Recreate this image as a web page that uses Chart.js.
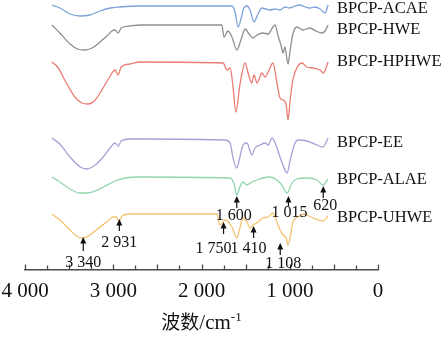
<!DOCTYPE html>
<html>
<head>
<meta charset="utf-8">
<script src="https://cdn.jsdelivr.net/npm/chart.js@4.4.0/dist/chart.umd.min.js"></script>
<style>
html, body { margin: 0; padding: 0; background: #fff; }
#wrap { position: relative; width: 442px; height: 341px; }
</style>
</head>
<body>
<div id="wrap"><canvas id="ftir"></canvas></div>
<script>
// FTIR spectra, wavenumber (cm-1) and offset transmittance (a.u.)
const seriesNames = ['BPCP-ACAE', 'BPCP-HWE', 'BPCP-HPHWE', 'BPCP-EE', 'BPCP-ALAE', 'BPCP-UHWE'];

const acaeWn = [3695, 3605, 3490, 3375, 3265, 3150, 3035, 2925, 2700, 2245, 1770, 1655, 1620, 1585, 1550, 1520, 1485, 1450, 1405, 1360, 1315, 1270, 1225, 1165, 1110, 1055, 1000, 940, 885, 825, 770, 715, 655, 600, 565];
const acaeT = [265, 262, 256, 254, 255, 259, 262, 263, 264, 264, 264, 264, 258, 243, 252, 262, 264, 260, 248, 256, 262, 261, 260, 261, 260, 263, 262, 264, 265, 263, 262, 263, 261, 257, 265];

const hweWn = [3695, 3605, 3490, 3405, 3320, 3240, 3150, 3060, 3015, 2980, 2945, 2910, 2810, 2695, 1770, 1745, 1700, 1655, 1600, 1550, 1505, 1460, 1415, 1370, 1305, 1245, 1190, 1165, 1135, 1100, 1075, 1055, 1020, 995, 965, 920, 850, 770, 705, 635, 600, 565];
const hweT = [245, 237, 226, 221, 220, 222, 228, 235, 239, 240, 237, 242, 244, 245, 245, 233, 239, 233, 220, 231, 241, 236, 232, 235, 237, 236, 243, 245, 235, 225, 217, 223, 206, 220, 236, 243, 240, 242, 239, 237, 239, 245];

const hphweWn = [3695, 3630, 3550, 3435, 3355, 3285, 3205, 3115, 3035, 2980, 2945, 2910, 2810, 2695, 1755, 1710, 1675, 1645, 1610, 1565, 1505, 1475, 1430, 1405, 1370, 1315, 1280, 1245, 1190, 1145, 1110, 1075, 1040, 1020, 995, 965, 920, 860, 805, 735, 655, 620, 565];
const hphweT = [208, 203, 190, 173, 167, 166, 170, 182, 194, 200, 195, 203, 206, 208, 207, 200, 202, 185, 158, 185, 207, 198, 187, 195, 187, 197, 193, 198, 207, 187, 172, 170, 165, 150, 170, 190, 202, 207, 203, 202, 200, 197, 208];

const eeWn = [3695, 3605, 3490, 3375, 3295, 3205, 3115, 3035, 2980, 2945, 2910, 2810, 2695, 1735, 1675, 1645, 1600, 1565, 1530, 1485, 1430, 1395, 1335, 1280, 1245, 1200, 1165, 1110, 1055, 1030, 995, 940, 905, 805, 690, 625, 565];
const eeT = [132, 126, 113, 103, 101, 105, 113, 122, 127, 124, 129, 131, 131, 130, 127, 113, 102, 113, 125, 127, 115, 122, 125, 127, 125, 132, 127, 113, 100, 97, 110, 127, 130, 129, 125, 123, 132];

const alaeWn = [3695, 3605, 3490, 3375, 3295, 3205, 3090, 2980, 2865, 2695, 1675, 1630, 1600, 1565, 1530, 1485, 1430, 1370, 1305, 1225, 1145, 1090, 1030, 975, 920, 805, 690, 625, 565];
const alaeT = [93, 88, 81, 77, 77, 79, 84, 89, 92, 93, 92, 86, 75, 83, 88, 85, 88, 90, 92, 93, 90, 85, 77, 87, 91, 92, 90, 85, 91];

const uhweWn = [3695, 3605, 3490, 3400, 3345, 3265, 3150, 3060, 3005, 2970, 2935, 2900, 2810, 2695, 1825, 1790, 1735, 1655, 1600, 1565, 1530, 1485, 1450, 1415, 1360, 1305, 1245, 1190, 1145, 1110, 1075, 1040, 1020, 985, 965, 905, 850, 735, 625, 565];
const uhweT = [56, 50, 40, 33, 32, 35, 43, 49, 53, 53, 49, 54, 56, 56, 56, 45, 50, 43, 32, 42, 52, 48, 42, 45, 48, 52, 53, 57, 48, 40, 35, 32, 25, 38, 48, 53, 56, 52, 49, 54];

// marked bands
const bandWn = [3340, 2931, 1750, 1600, 1410, 1108, 1015, 620];

const xTicks = [4000, 3000, 2000, 1000, 0];

// ---- layout / style ----
const SERIF = "'Liberation Serif', 'DejaVu Serif', serif";
const AXIS_COLOR = '#4a4a4a';
const colors = ['#7fa2d8', '#938d8d', '#ea7d74', '#ab9ed6', '#93d5ad', '#f3c36f'];
const nameX = 337;
const nameBaselines = [12.5, 33.5, 65.5, 146.5, 183.5, 221.5];
// per band: arrow tip y, tail y, label dx, label baseline
const bandLayout = [
    [237, 251, 0, 267],
    [219, 231, 0, 247],
    [222, 234, -10, 253],
    [196, 208, -3, 220],
    [226, 238, -5, 253],
    [243, 255, 3, 268],
    [196, 206, 1, 217],
    [186, 198, 2, 210]
];

const fmt = v => String(v).replace(/\B(?=(\d{3})+(?!\d))/g, ' ');
const points = (wn, t) => wn.map((w, i) => ({ x: w, y: t[i] }));

const spectra = [
    points(acaeWn, acaeT), points(hweWn, hweT), points(hphweWn, hphweT),
    points(eeWn, eeT), points(alaeWn, alaeT), points(uhweWn, uhweT)
];

const decorations = {
    id: 'decorations',
    afterDraw(chart) {
        const ctx = chart.ctx;
        const xs = chart.scales.x;
        const area = chart.chartArea;
        ctx.save();
        // inward ticks every 250 cm-1
        ctx.strokeStyle = AXIS_COLOR;
        ctx.lineWidth = 1.3;
        for (let wn = 0; wn <= 4000; wn += 250) {
            const px = Math.round(xs.getPixelForValue(wn)) + 0.5;
            ctx.beginPath();
            ctx.moveTo(px, area.bottom);
            ctx.lineTo(px, area.bottom - (wn % 500 === 0 ? 5.5 : 4.5));
            ctx.stroke();
        }
        // series names
        ctx.fillStyle = '#111';
        ctx.font = `16.5px ${SERIF}`;
        ctx.textAlign = 'left';
        ctx.textBaseline = 'alphabetic';
        seriesNames.forEach((name, i) => ctx.fillText(name, nameX, nameBaselines[i]));
        // band arrows and labels
        ctx.font = `16px ${SERIF}`;
        ctx.textAlign = 'center';
        ctx.strokeStyle = '#111';
        ctx.lineWidth = 1.2;
        bandWn.forEach((wn, i) => {
            const [tip, tail, dx, base] = bandLayout[i];
            const px = xs.getPixelForValue(wn);
            ctx.beginPath();
            ctx.moveTo(px, tail);
            ctx.lineTo(px, tip + 4);
            ctx.stroke();
            ctx.beginPath();
            ctx.moveTo(px, tip);
            ctx.lineTo(px - 3, tip + 6.5);
            ctx.lineTo(px + 3, tip + 6.5);
            ctx.closePath();
            ctx.fill();
            ctx.fillText(fmt(wn), px + dx, base);
        });
        // axis title with superscript
        const cx = (area.left + area.right) / 2;
        const ty = 329;
        const cjk = "19px 'Noto Sans CJK SC', sans-serif";
        const main = `21px ${SERIF}`;
        const sup = `13px ${SERIF}`;
        ctx.font = cjk; const w1 = ctx.measureText('波数').width;
        ctx.font = main; const w2 = ctx.measureText('/cm').width;
        ctx.font = sup; const w3 = ctx.measureText('-1').width;
        let tx = cx - (w1 + w2 + w3) / 2;
        ctx.textAlign = 'left';
        ctx.font = cjk; ctx.fillText('波数', tx, ty); tx += w1;
        ctx.font = main; ctx.fillText('/cm', tx, ty); tx += w2;
        ctx.font = sup; ctx.fillText('-1', tx, ty - 8);
        ctx.restore();
    }
};

new Chart(document.getElementById('ftir'), {
    type: 'line',
    data: {
        datasets: spectra.map((data, i) => ({
            label: seriesNames[i],
            data,
            borderColor: colors[i],
            borderWidth: 1.3,
            pointRadius: 0,
            fill: false,
            cubicInterpolationMode: 'monotone'
        }))
    },
    options: {
        responsive: true,
        maintainAspectRatio: false,
        animation: false,
        layout: { padding: { left: 25, right: 64, top: 0, bottom: 0 } },
        plugins: { legend: { display: false }, tooltip: { enabled: false } },
        scales: {
            x: {
                type: 'linear',
                reverse: true,
                min: 0,
                max: 4000,
                afterBuildTicks: scale => { scale.ticks = xTicks.map(v => ({ value: v })); },
                afterFit: scale => {
                    scale.height = 71;
                    scale.paddingLeft = 0;
                    scale.paddingRight = 0;
                },
                grid: { display: true, drawOnChartArea: false, drawTicks: false },
                border: { display: true, color: AXIS_COLOR, width: 1.5 },
                ticks: {
                    autoSkip: false,
                    maxRotation: 0,
                    padding: 9,
                    color: '#111',
                    font: { family: SERIF, size: 21 },
                    callback: v => fmt(v)
                }
            },
            y: { display: false, min: 0, max: 270 }
        }
    },
    plugins: [decorations]
});
</script>
</body>
</html>
